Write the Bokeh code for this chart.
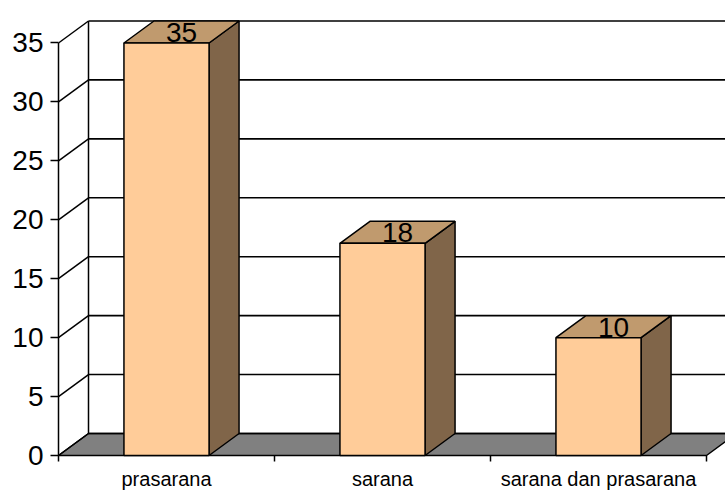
from bokeh.plotting import figure
from bokeh.models import Range1d, FixedTicker
from bokeh.embed import file_html
from bokeh.resources import INLINE
from bokeh.core.properties import value

# Data
categories = ["prasarana", "sarana", "sarana dan prasarana"]
counts = [35, 18, 10]
y_ticks = [0, 5, 10, 15, 20, 25, 30, 35]

# Colours
FRONT = "#FFCC99"
TOP = "#C09A6E"
SIDE = "#806549"
FLOOR = "#808080"
FONT = "Liberation Sans"

# Scale: one category slot per x unit, value units on y
PX_X = 216.0
PX_Y = 11.786
W, H = 725, 490
LEFT = 56          # frame left edge in pixels
BASE = 455         # pixel row of the value 0
x0 = -2 / PX_X
y0 = -(H - BASE) / PX_Y

# 3-D depth offsets expressed in data units
DX = 30 / PX_X
DY = 22 / PX_Y
HALF_W = 0.197
TICK = 6 / PX_Y
n = len(categories)
ymax = y_ticks[-1]

p = figure(width=W, height=H, output_backend="svg", toolbar_location=None,
           x_range=Range1d(x0, x0 + (W - LEFT) / PX_X),
           y_range=Range1d(y0, y0 + H / PX_Y),
           min_border_left=LEFT, min_border_right=0, min_border_top=0, min_border_bottom=0)
p.outline_line_color = None
p.xgrid.visible = False
p.ygrid.visible = False
p.xaxis.visible = False
p.background_fill_color = "white"
p.border_fill_color = "white"

# Floor
p.patch([0, n, n + DX, DX], [0, 0, DY, DY], fill_color=FLOOR,
        line_color="black", line_width=1.5)

# Back wall gridlines and left wall diagonals
for t in y_ticks:
    p.line([DX, n + DX + 0.3], [t + DY, t + DY], line_color="black", line_width=1.6)
    p.line([0, DX], [t, t + DY], line_color="black", line_width=1.5)
p.line([DX, DX], [DY, ymax + DY], line_color="black", line_width=1.5)

# Front y-axis line
p.line([0, 0], [0, ymax], line_color="black", line_width=1.5)

# Category boundary ticks below the floor edge
bounds = list(range(n + 1))
p.segment(x0=bounds, y0=[0] * len(bounds), x1=bounds, y1=[-TICK] * len(bounds),
          line_color="black", line_width=1.5)

# 3-D bars
for i, v in enumerate(counts):
    c = i + 0.5
    xl, xr = c - HALF_W, c + HALF_W
    p.patch([xr, xr + DX, xr + DX, xr], [0, DY, v + DY, v], fill_color=SIDE,
            line_color="black", line_width=1.5)
    p.patch([xl, xr, xr + DX, xl + DX], [v, v, v + DY, v + DY], fill_color=TOP,
            line_color="black", line_width=1.5)
    p.quad(left=xl, right=xr, bottom=0, top=v, fill_color=FRONT,
           line_color="black", line_width=1.5)

# Value labels above each bar
p.text(x=[i + 0.5 + DX / 2 for i in range(n)], y=[v + 0.9 for v in counts],
       text=[str(v) for v in counts], text_align="center", text_baseline="alphabetic",
       text_font=value(FONT), text_font_size="28px", text_color="black")

# Category labels under the floor
p.text(x=[i + 0.5 for i in range(n)], y=[-23 / PX_Y] * n, text=categories,
       text_align="center", text_baseline="middle",
       text_font=value(FONT), text_font_size="20px", text_color="black")

# Y axis
ya = p.yaxis[0]
ya.ticker = FixedTicker(ticks=y_ticks)
ya.axis_line_color = None
ya.major_tick_out = 6
ya.major_tick_in = 2
ya.major_tick_line_width = 1.5
ya.minor_tick_line_color = None
ya.major_label_standoff = 7
ya.major_label_text_font = FONT
ya.major_label_text_font_size = "28px"
ya.major_label_text_color = "black"

open("out.html", "w").write(file_html(p, INLINE))
